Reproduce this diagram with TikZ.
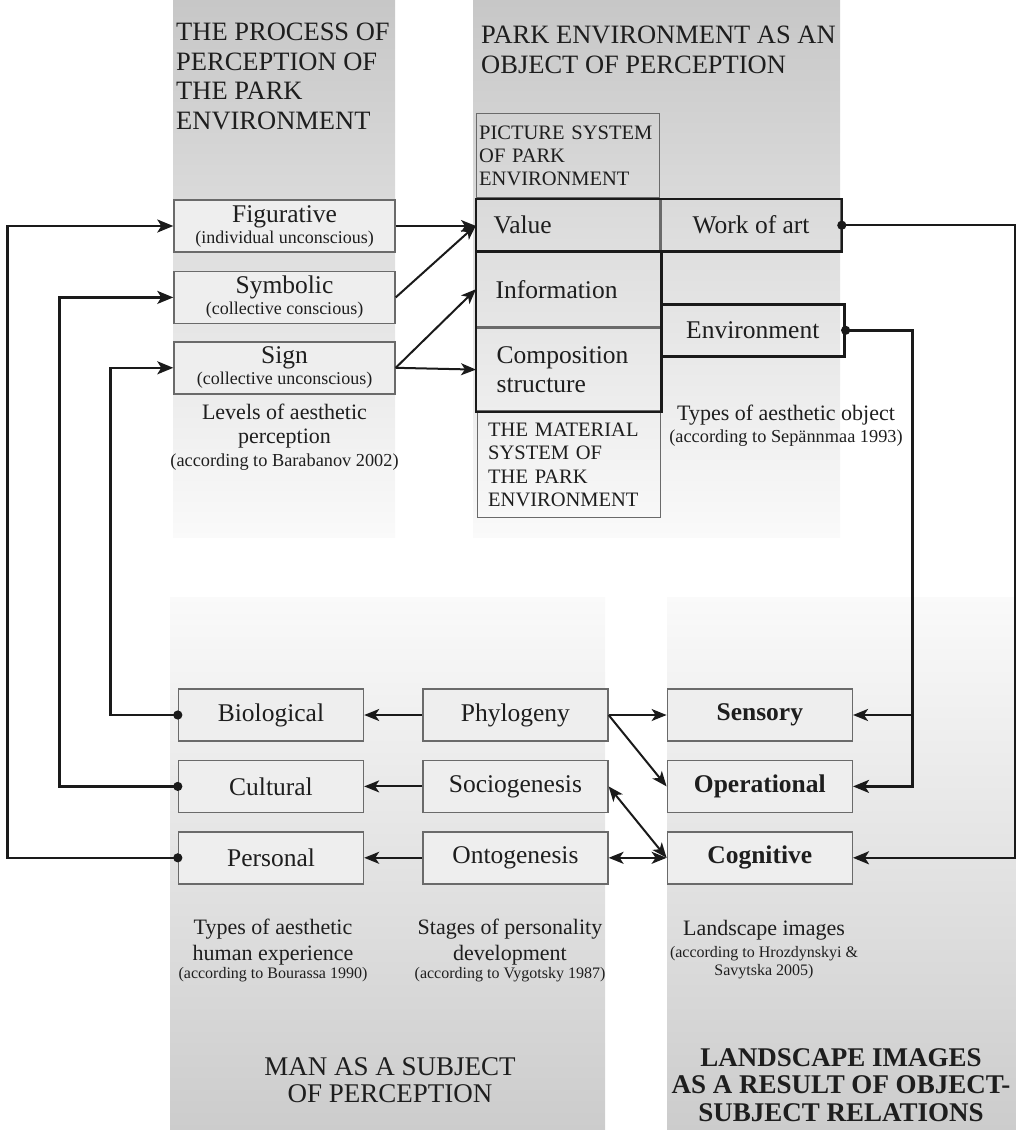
\documentclass[tikz,border=0pt]{standalone}
\usepackage{fontspec}
\setmainfont{Liberation Serif}
\usepackage{xcolor}
\definecolor{InkGrey}{HTML}{1E1E1E}
\definecolor{EdgeGrey}{HTML}{6A6A6A}
\definecolor{LineBlack}{HTML}{1A1A1A}
\definecolor{BoxGrey}{HTML}{EEEEEE}
\usepackage{tikz}
\usetikzlibrary{arrows.meta, positioning, fit, calc, backgrounds}
\newcommand{\HeadFont}{\fontsize{26.5}{29.7}\selectfont}
\newcommand{\BoxFont}{\fontsize{25.5}{29}\selectfont}
\newcommand{\NoteFont}{\fontsize{18}{21}\selectfont}
\newcommand{\CapFont}{\fontsize{22}{25}\selectfont}
\newcommand{\RefFont}{\fontsize{18.3}{23}\selectfont}
\newcommand{\SysFont}{\fontsize{20.5}{23.3}\selectfont}
\newcommand{\LowRefFont}{\fontsize{16}{18}\selectfont}
\newcommand{\TitleFont}{\fontsize{27}{27.5}\selectfont}
\tikzstyle{percbox} = [rectangle, draw=EdgeGrey, fill=BoxGrey, line width=1.4pt, minimum width=221pt, minimum height=52pt, inner sep=0pt, align=center, text=InkGrey, font=\BoxFont]
\tikzstyle{humanbox} = [percbox, minimum width=185pt]
\tikzstyle{cell} = [rectangle, draw=EdgeGrey, line width=1.4pt, inner ysep=0pt, text=InkGrey, font=\BoxFont]
\tikzstyle{heavy} = [draw=LineBlack, line width=2.6pt, inner sep=0pt]
\tikzstyle{capnote} = [align=center, text=InkGrey, inner sep=0pt, anchor=north, font=\CapFont]
\tikzstyle{arrow} = [line width=2pt, draw=LineBlack, -{Stealth[length=15pt, width=12pt, inset=4pt]}]
\tikzstyle{twoway} = [arrow, {Stealth[length=15pt, width=12pt, inset=4pt]}-{Stealth[length=15pt, width=12pt, inset=4pt]}]
\tikzstyle{feedback} = [line width=2.4pt, draw=LineBlack, {Circle[length=9pt]}-{Stealth[length=16pt, width=13pt, inset=4pt]}, shorten <=-4.5pt]

\begin{document}
\begin{tikzpicture}[x=1pt, y=-1pt]
        \useasboundingbox (0,0) rectangle (1016,1130);

        % --- column headers ---
        \node[anchor=north west, align=left, font=\HeadFont, text=InkGrey, inner sep=0pt] (prochead) at (176,22.6) {THE PROCESS OF\\PERCEPTION OF\\THE PARK\\ENVIRONMENT};
        \node[anchor=north west, align=left, font=\HeadFont, text=InkGrey, inner sep=0pt] (parkhead) at (481,25.6) {PARK ENVIRONMENT AS AN\\OBJECT OF PERCEPTION};

        % --- levels of perception ---
        \node[percbox] (fig) at (284.5,226) {Figurative\\[-8pt]\NoteFont (individual unconscious)};
        \node[percbox, below=18pt of fig] (sym) {Symbolic\\[-8pt]\NoteFont (collective conscious)};
        \node[percbox, below=17pt of sym] (sign) {Sign\\[-8pt]\NoteFont (collective unconscious)};
        \node[capnote] (levcap) at (284.5,404) {Levels of aesthetic\\[-1pt]perception\\[-2pt]\RefFont (according to Barabanov 2002)};

        % --- park environment ---
        \node[cell, anchor=north west, minimum height=84pt, text width=178pt, inner xsep=2.5pt, align=left, font=\SysFont] (picsys) at (476,113) {\mbox{PICTURE SYSTEM}\\OF PARK\\ENVIRONMENT};
        \node[cell, anchor=north west, minimum height=51pt, text width=149pt, inner xsep=17pt, align=left] (value) at (476,199) {Value};
        \node[cell, anchor=west, minimum width=180pt, minimum height=51pt] (workart) at (value.east) {Work of art};
        \node[cell, anchor=north west, minimum height=75pt, text width=146pt, inner xsep=19pt, align=left] (info) at (476,251) {Information};
        \node[cell, below=0pt of info, minimum height=83pt, text width=144pt, inner xsep=20pt, align=left] (comp) {Composition\\structure};
        \node[cell, below=0pt of comp, minimum height=105pt, text width=161pt, inner xsep=11pt, align=left, font=\SysFont] (matsys) {THE MATERIAL\\SYSTEM OF\\THE PARK\\ENVIRONMENT};
        \node[cell, heavy, anchor=north west, minimum width=183pt, minimum height=52pt] (env) at (660,303) {Environment};
        \node[heavy, fit=(value)(workart)] (valframe) {};
        \node[heavy, fit=(info)(comp)] (infoframe) {};
        \node[capnote] (objcap) at (786,405) {Types of aesthetic object\\[-3pt]\RefFont (according to Sepännmaa 1993)};

        % --- man as a subject ---
        \node[humanbox] (bio) at (271,715) {Biological};
        \node[humanbox, below=18pt of bio] (cult) {Cultural};
        \node[humanbox, below=18pt of cult] (pers) {Personal};
        \node[humanbox, right=58pt of bio] (phyl) {Phylogeny};
        \node[humanbox, right=58pt of cult] (soc) {Sociogenesis};
        \node[humanbox, right=58pt of pers] (onto) {Ontogenesis};

        % --- landscape images ---
        \node[humanbox, right=58pt of phyl, font=\BoxFont\bfseries] (sens) {Sensory};
        \node[humanbox, right=58pt of soc, font=\BoxFont\bfseries] (oper) {Operational};
        \node[humanbox, right=58pt of onto, font=\BoxFont\bfseries] (cogn) {Cognitive};

        % Captions and titles
        \node[capnote] (expcap) at (273,919) {Types of aesthetic\\[1pt]human experience\\[-7pt]\LowRefFont (according to Bourassa 1990)};
        \node[capnote] (devcap) at (510,919) {Stages of personality\\[1pt]development\\[-7pt]\LowRefFont (according to Vygotsky 1987)};
        \node[capnote] (imgcap) at (764,920) {Landscape images\\[-3pt]\LowRefFont (according to Hrozdynskyi \&\\[-7pt]\LowRefFont Savytska 2005)};
        \node[capnote, font=\TitleFont] (mantitle) at (390,1057) {MAN AS A SUBJECT\\OF PERCEPTION};
        \node[capnote, font=\TitleFont\bfseries] (landtitle) at (841,1048) {LANDSCAPE IMAGES\\AS A RESULT OF OBJECT-\\SUBJECT RELATIONS};

        % Connect levels to the park
        \draw [arrow] (fig.east) -- (fig.east -| value.west);
        \draw [arrow] (sym.east) -- (value.west);
        \draw [arrow] (sign.east) -- (info.west);
        \draw [arrow] (sign.east) -- (comp.west);

        % Connect stages
        \draw [arrow] (phyl) -- (bio);
        \draw [arrow] (soc) -- (cult);
        \draw [arrow] (onto) -- (pers);
        \draw [arrow] (phyl) -- (sens);
        \draw [arrow] (phyl.east) -- (oper.west);
        \draw [twoway] (soc.east) -- (cogn.west);
        \draw [twoway] (onto) -- (cogn);

        % Feedback loops
        \draw [feedback] (bio.west) -- ++(-67.5,0) |- (sign.west);
        \draw [feedback] (cult.west) -- ++(-118.5,0) |- (sym.west);
        \draw [feedback] (pers.west) -- ++(-170.5,0) |- (fig.west);
        \draw [feedback] (workart.east) -- ++(173,0) |- (cogn.east);
        \coordinate (envbus) at ($(env.east)+(67,0)$);
        \draw [feedback] (env.east) -- (envbus) |- (oper.east);
        \draw [arrow, line width=2.4pt] (envbus |- sens.east) -- (sens.east);

        % Draw backgrounds
        \begin{scope}[on background layer]
            \shade[top color=black!22, bottom color=black!2] (173,0) rectangle (395,537);
            \shade[top color=black!22, bottom color=black!2] (473,0) rectangle (840,537);
            \shade[top color=black!2, bottom color=black!20] (170,597) rectangle (605,1130);
            \shade[top color=black!2, bottom color=black!20] (667,597) rectangle (1016,1130);
        \end{scope}
    \end{tikzpicture}
\end{document}
